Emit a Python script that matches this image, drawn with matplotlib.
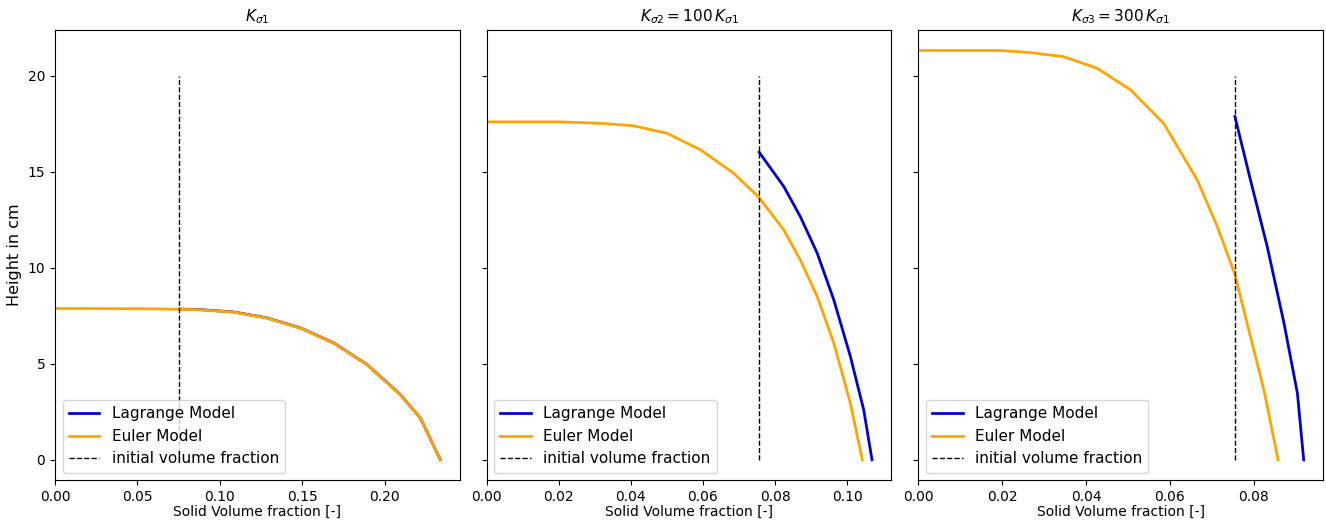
import matplotlib
matplotlib.use("Agg")
import matplotlib.pyplot as plt

# initial solid volume fraction
phi0 = 0.0755

# case 1: K_sigma1
euler1_phi = [0.0, 0.02, 0.04, 0.06, 0.0759, 0.0881, 0.1083, 0.1286, 0.1488, 0.169, 0.1893, 0.2095, 0.2217, 0.2338]
euler1_h = [7.88, 7.88, 7.87, 7.86, 7.84, 7.81, 7.69, 7.38, 6.86, 6.08, 4.95, 3.39, 2.17, 0.0]
lagr1_phi = [0.0755, 0.0881, 0.1083, 0.1286, 0.1488, 0.169, 0.1893, 0.2095, 0.2217, 0.2338]
lagr1_h = [7.85, 7.82, 7.70, 7.39, 6.87, 6.09, 4.96, 3.40, 2.17, 0.0]

# case 2: K_sigma2 = 100 K_sigma1
euler2_phi = [0.0, 0.0204, 0.0315, 0.0407, 0.05, 0.0593, 0.0685, 0.0755, 0.0824, 0.087, 0.0917,
              0.0963, 0.1009, 0.1042]
euler2_h = [17.6, 17.6, 17.53, 17.40, 17.01, 16.15, 14.93, 13.68, 11.98, 10.42, 8.51, 6.08, 2.95, 0.0]
lagr2_phi = [0.0756, 0.0824, 0.087, 0.0917, 0.0963, 0.1009, 0.1046, 0.1069]
lagr2_h = [16.02, 14.24, 12.67, 10.76, 8.33, 5.38, 2.6, 0.0]

# case 3: K_sigma3 = 300 K_sigma1
euler3_phi = [0.0, 0.0195, 0.0267, 0.0346, 0.0426, 0.0506, 0.0585, 0.0665, 0.0713, 0.0754, 0.0784,
              0.0824, 0.0858]
euler3_h = [21.32, 21.32, 21.21, 21.0, 20.4, 19.27, 17.53, 14.58, 12.15, 9.72, 7.12, 3.65, 0.0]
lagr3_phi = [0.0755, 0.0792, 0.0832, 0.0872, 0.0904, 0.0919]
lagr3_h = [17.88, 14.58, 11.11, 7.12, 3.47, 0.0]

titles = [r'$K_{\sigma1}$', r'$K_{\sigma2} = 100\,K_{\sigma1}$', r'$K_{\sigma3} = 300\,K_{\sigma1}$']
cases = [(lagr1_phi, lagr1_h, euler1_phi, euler1_h),
         (lagr2_phi, lagr2_h, euler2_phi, euler2_h),
         (lagr3_phi, lagr3_h, euler3_phi, euler3_h)]

fig, axes = plt.subplots(1, 3, sharey=True, figsize=(13.26, 5.22), dpi=100)

for ax, title, (lp, lh, ep, eh) in zip(axes, titles, cases):
    ax.plot(lp, lh, color='mediumblue', linewidth=2, label='Lagrange Model')
    ax.plot(ep, eh, color='orange', linewidth=2, label='Euler Model')
    ax.plot([phi0, phi0], [0, 20], 'k--', linewidth=1, label='initial volume fraction')
    ax.set_xlim(left=0)
    ax.set_title(title, fontsize=11)
    ax.set_xlabel('Solid Volume fraction [-]', labelpad=1)
    ax.legend(loc='lower left', fontsize=11)

axes[0].set_ylabel('Height in cm', fontsize=11.5)

plt.subplots_adjust(left=0.0415, right=0.9977, bottom=0.080, top=0.9425, wspace=0.067)
plt.savefig('out.png')
